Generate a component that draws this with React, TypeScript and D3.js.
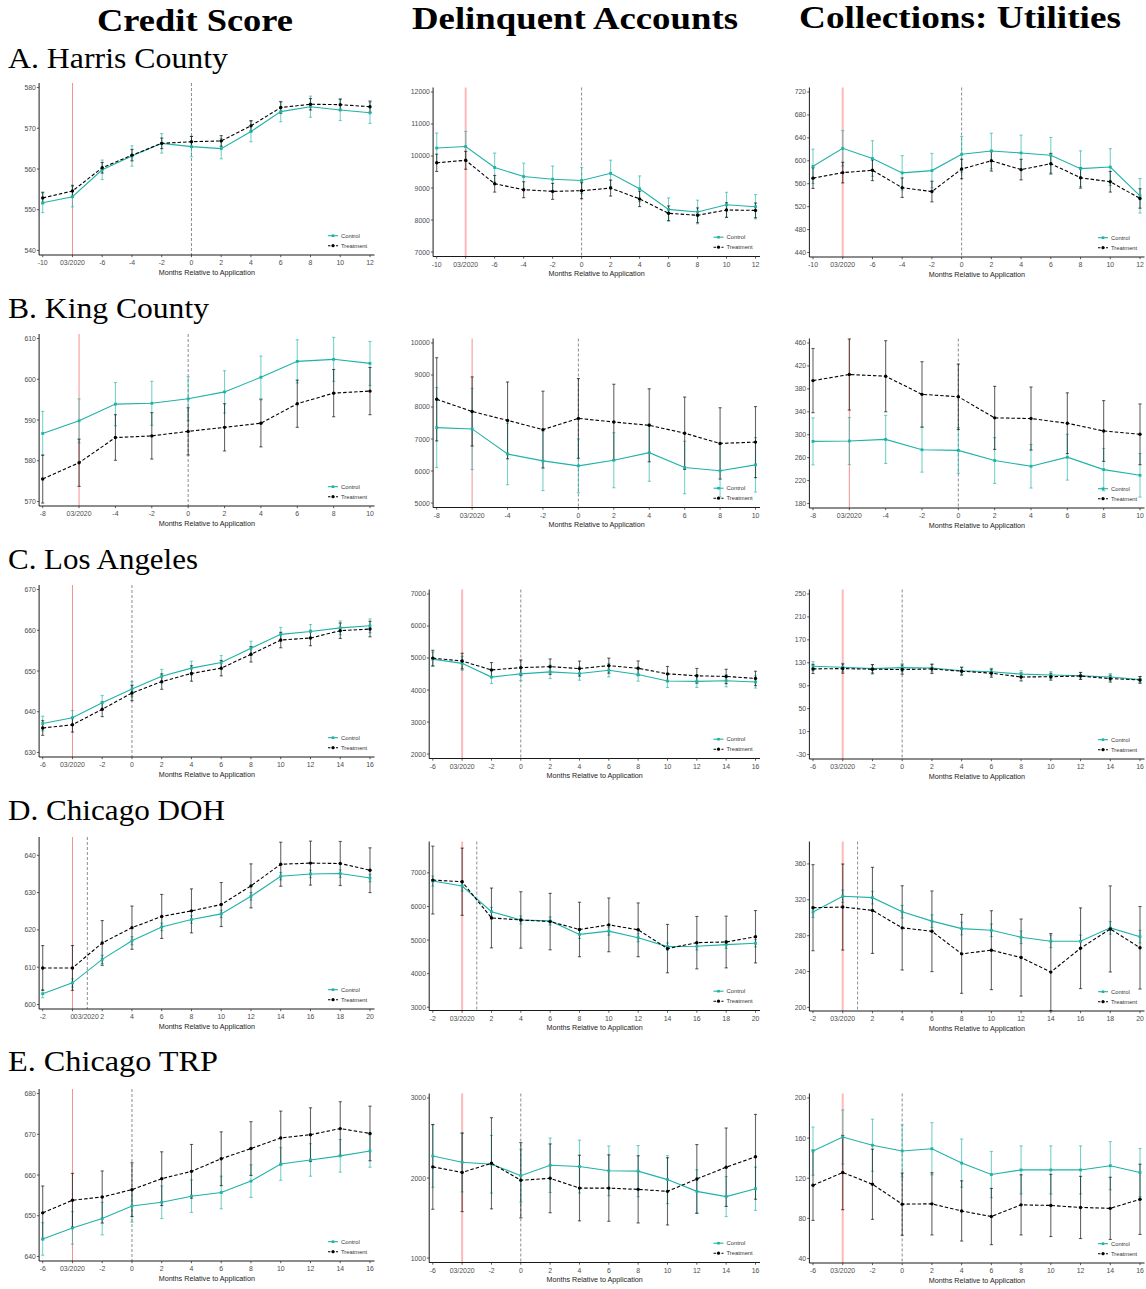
import React from 'react';
import * as d3 from 'd3';

// months relative to application, per site
const monthsHarris = [-10, -8, -6, -4, -2, 0, 2, 4, 6, 8, 10, 12];
const monthsKing = [-8, -6, -4, -2, 0, 2, 4, 6, 8, 10];
const monthsLA = [-6, -4, -2, 0, 2, 4, 6, 8, 10, 12, 14, 16];
const monthsDOH = [-2, 0, 2, 4, 6, 8, 10, 12, 14, 16, 18, 20];
const monthsTRP = [-6, -4, -2, 0, 2, 4, 6, 8, 10, 12, 14, 16];

// A. Harris County
const harrisCreditCtl = [551.7, 553.2, 559.8, 563.2, 566.3, 565.5, 565.0, 569.2, 574.1, 575.3, 574.5, 573.8];
const harrisCreditCtlCI = [2.4, 2.5, 2.4, 2.5, 2.4, 2.5, 2.5, 2.5, 2.5, 2.6, 2.6, 2.6];
const harrisCreditTrt = [552.9, 554.6, 560.3, 563.4, 566.3, 566.7, 566.9, 570.6, 575.1, 575.9, 575.8, 575.3];
const harrisCreditTrtCI = [1.4, 1.4, 1.3, 1.4, 1.3, 1.3, 1.3, 1.3, 1.4, 1.4, 1.4, 1.4];
const harrisDelinqCtl = [10248, 10297, 9641, 9357, 9275, 9234, 9459, 8977, 8332, 8250, 8475, 8414];
const harrisDelinqCtlCI = [470, 470, 450, 420, 410, 410, 410, 400, 360, 370, 390, 380];
const harrisDelinqTrt = [9787, 9866, 9132, 8947, 8895, 8916, 8998, 8660, 8209, 8148, 8312, 8301];
const harrisDelinqTrtCI = [270, 280, 260, 250, 250, 250, 250, 240, 230, 230, 230, 230];
const harrisUtilCtl = [590.3, 621.7, 604, 578.9, 582.9, 611.4, 617.1, 613.7, 609.7, 586.3, 589.1, 538.9];
const harrisUtilCtlCI = [30, 31, 31, 30, 30, 31, 31, 31, 31, 31, 32, 30];
const harrisUtilTrt = [569.7, 579.4, 583.4, 553.1, 546.3, 585.7, 600, 584.6, 594.9, 570.3, 563.4, 534.3];
const harrisUtilTrtCI = [18, 18, 18, 17, 18, 17, 18, 18, 18, 18, 18, 17];

// B. King County
const kingCreditCtl = [586.7, 589.8, 593.9, 594.1, 595.2, 596.9, 600.5, 604.4, 604.9, 603.9];
const kingCreditCtlCI = [5.4, 5.4, 5.3, 5.4, 5.4, 5.2, 5.2, 5.3, 5.4, 5.4];
const kingCreditTrt = [575.5, 579.5, 585.7, 586.1, 587.2, 588.2, 589.2, 594.0, 596.6, 597.1];
const kingCreditTrtCI = [5.9, 5.8, 5.6, 5.7, 5.8, 5.8, 5.8, 5.8, 5.8, 5.8];
const kingDelinqCtl = [7356, 7315, 6532, 6316, 6162, 6337, 6573, 6110, 6008, 6193];
const kingDelinqCtlCI = [1250, 1270, 960, 930, 840, 860, 895, 820, 820, 850];
const kingDelinqTrt = [8240, 7860, 7582, 7294, 7644, 7531, 7428, 7181, 6862, 6903];
const kingDelinqTrtCI = [1300, 1080, 1200, 1200, 1245, 1180, 1140, 1130, 1115, 1110];
const kingUtilCtl = [288.4, 289, 291.9, 273.7, 272.6, 255, 245, 260.8, 239.1, 229.2];
const kingUtilCtlCI = [41, 41, 42, 39, 40, 40, 38, 40, 37, 38];
const kingUtilTrt = [394.4, 405, 402, 370.4, 366.3, 329.4, 328.2, 320, 306.5, 300.7];
const kingUtilTrtCI = [56, 62, 62, 57, 57, 55, 55, 53, 53, 53];

// C. Los Angeles
const laCreditCtl = [637.1, 638.5, 642.2, 645.6, 648.7, 650.7, 652.1, 655.6, 659.0, 659.7, 660.6, 661.1];
const laCreditCtlCI = [1.8, 1.8, 1.8, 1.8, 1.7, 1.7, 1.7, 1.7, 1.7, 1.7, 1.7, 1.7];
const laCreditTrt = [636.0, 636.8, 640.6, 644.6, 647.4, 649.4, 650.7, 654.1, 657.6, 658.1, 659.9, 660.3];
const laCreditTrtCI = [1.8, 1.8, 1.8, 1.9, 1.9, 1.9, 1.9, 1.9, 1.9, 1.9, 1.9, 1.9];
const laDelinqCtl = [4965, 4832, 4403, 4505, 4567, 4515, 4618, 4485, 4280, 4270, 4290, 4250];
const laDelinqCtlCI = [220, 220, 200, 210, 210, 210, 210, 210, 200, 190, 190, 190];
const laDelinqTrt = [4996, 4904, 4628, 4699, 4730, 4669, 4761, 4679, 4505, 4444, 4423, 4362];
const laDelinqTrtCI = [245, 245, 230, 240, 240, 235, 235, 230, 230, 230, 225, 225];
const laUtilCtl = [123.9, 122.2, 119.9, 121.6, 121, 116, 114.3, 110.3, 108.6, 107.5, 105.2, 100.7];
const laUtilCtlCI = [8, 7, 7, 7, 7, 6, 6, 6, 6, 6, 6, 5];
const laUtilTrt = [119.3, 119.9, 118.8, 118.2, 119.3, 115.3, 111.9, 105.2, 105.7, 106.9, 102.4, 100.1];
const laUtilTrtCI = [8, 8, 8, 8, 8, 7, 7, 7, 6, 6, 6, 6];

// D. Chicago DOH
const dohCreditCtl = [602.9, 605.8, 612.1, 617.1, 620.8, 622.8, 624.3, 629.0, 634.4, 635.0, 635.1, 633.9];
const dohCreditCtlCI = [1.1, 1.1, 1.1, 1.1, 1.0, 1.0, 1.0, 1.0, 1.0, 1.0, 1.0, 1.0];
const dohCreditTrt = [609.8, 609.8, 616.5, 620.6, 623.6, 625.1, 626.8, 631.8, 637.6, 637.9, 637.8, 636.0];
const dohCreditTrtCI = [6.0, 6.0, 6.0, 5.8, 5.9, 5.9, 5.9, 5.9, 5.9, 5.9, 5.9, 6.0];
const dohDelinqCtl = [6755, 6608, 5843, 5598, 5569, 5167, 5265, 5069, 4805, 4815, 4863, 4903];
const dohDelinqCtlCI = [150, 150, 130, 120, 120, 120, 120, 120, 110, 110, 110, 110];
const dohDelinqTrt = [6784, 6735, 5657, 5598, 5549, 5314, 5451, 5304, 4745, 4922, 4941, 5098];
const dohDelinqTrtCI = [1010, 1000, 890, 840, 840, 810, 800, 800, 720, 780, 770, 780];
const dohUtilCtl = [306.3, 324, 322.4, 306.7, 296.2, 287.9, 286, 278.2, 273.7, 273.7, 288.7, 278.9];
const dohUtilCtlCI = [6, 7, 7, 7, 7, 7, 7, 7, 7, 7, 7, 7];
const dohUtilTrt = [311.2, 311.9, 308.2, 288.7, 284.9, 259.7, 263.8, 255.6, 239.4, 266, 287.5, 266.5];
const dohUtilTrtCI = [48, 48, 48, 47, 45, 44, 44, 43, 43, 45, 48, 46];

// E. Chicago TRP
const trpCreditCtl = [644.3, 647.0, 649.3, 652.4, 653.3, 654.8, 655.7, 658.5, 662.7, 663.7, 664.7, 665.9];
const trpCreditCtlCI = [4, 4, 4, 4, 4, 4, 4, 4, 4, 4, 4, 4];
const trpCreditTrt = [650.7, 653.8, 654.6, 656.4, 659.1, 660.9, 664.0, 666.5, 669.1, 669.9, 671.4, 670.2];
const trpCreditTrtCI = [6.6, 6.6, 6.4, 6.6, 6.6, 6.6, 6.6, 6.6, 6.6, 6.6, 6.6, 6.7];
const trpDelinqCtl = [2274, 2196, 2172, 2029, 2159, 2143, 2090, 2086, 1980, 1833, 1768, 1866];
const trpDelinqCtlCI = [390, 370, 360, 330, 340, 330, 310, 320, 300, 270, 250, 270];
const trpDelinqTrt = [2139, 2070, 2184, 1972, 1996, 1874, 1874, 1858, 1833, 1988, 2135, 2265];
const trpDelinqTrtCI = [530, 490, 570, 470, 430, 410, 415, 420, 420, 430, 490, 530];
const trpUtilCtl = [147.1, 161.1, 152.9, 147.1, 149.4, 135.1, 123.7, 128.3, 128.3, 128.3, 132.5, 125.7];
const trpUtilCtlCI = [24, 27, 26, 26, 26, 24, 23, 24, 24, 24, 24, 24];
const trpUtilTrt = [113, 125.7, 114, 94.2, 94.5, 87.4, 81.8, 93.5, 92.9, 90.9, 90, 99];
const trpUtilTrtCI = [35, 37, 35, 31, 31, 30, 28, 30, 31, 31, 31, 35];

// y tick labels
const ticksCreditA = [540, 550, 560, 570, 580];
const ticksDelinqA = [7000, 8000, 9000, 10000, 11000, 12000];
const ticksUtilA = [440, 480, 520, 560, 600, 640, 680, 720];
const ticksCreditB = [570, 580, 590, 600, 610];
const ticksDelinqB = [5000, 6000, 7000, 8000, 9000, 10000];
const ticksUtilB = [180, 220, 260, 300, 340, 380, 420, 460];
const ticksCreditC = [630, 640, 650, 660, 670];
const ticksDelinqC = [2000, 3000, 4000, 5000, 6000, 7000];
const ticksUtilC = [-30, 10, 50, 90, 130, 170, 210, 250];
const ticksCreditD = [600, 610, 620, 630, 640];
const ticksDelinqD = [3000, 4000, 5000, 6000, 7000];
const ticksUtilD = [200, 240, 280, 320, 360];
const ticksCreditE = [640, 650, 660, 670, 680];
const ticksDelinqE = [1000, 2000, 3000];
const ticksUtilE = [40, 80, 120, 160, 200];

const columnTitles = ['Credit Score', 'Delinquent Accounts', 'Collections: Utilities'];
const rowTitles = ['A. Harris County', 'B. King County', 'C. Los Angeles', 'D. Chicago DOH', 'E. Chicago TRP'];

const TEAL = '#1fb2a6';
const SANS = "'Liberation Sans', Arial, Helvetica, sans-serif";
const SERIF = "'Liberation Serif', 'Times New Roman', serif";

const ROW_TOPS = [83, 334, 585, 837, 1089];
const COLS = [
  { xFirst: (n: number) => 42.7, xLast: 370, top: 0, bottom: 172 },
  { xFirst: (n: number) => 417.2 + n * 3.9, xLast: 755.5, top: 4.5, bottom: 173.5 },
  { xFirst: (n: number) => 813, xLast: 1140, top: 4.5, bottom: 174 },
];
const titleX = [195, 575, 960];
const titleLen = [196, 326, 322];
const titleY = [31, 29, 28];
const rowTitleY = [68, 318, 569, 820, 1071];
const rowTitleLen = [220, 201, 190, 217, 210];

const padDomain = (t: number[]) => {
  const r = t[t.length - 1] - t[0];
  return [t[0] - 0.028 * r, t[t.length - 1] + 0.028 * r];
};

type Spec = {
  row: number; col: number; months: number[]; march: number; dash: number;
  ticks: number[]; domain?: number[];
  ctl: number[]; ctlCI: number[]; trt: number[]; trtCI: number[];
  extraZero?: boolean;
};

const panels: Spec[] = [
  { row: 0, col: 0, months: monthsHarris, march: -8, dash: 0, ticks: ticksCreditA, ctl: harrisCreditCtl, ctlCI: harrisCreditCtlCI, trt: harrisCreditTrt, trtCI: harrisCreditTrtCI },
  { row: 0, col: 1, months: monthsHarris, march: -8, dash: 0, ticks: ticksDelinqA, ctl: harrisDelinqCtl, ctlCI: harrisDelinqCtlCI, trt: harrisDelinqTrt, trtCI: harrisDelinqTrtCI },
  { row: 0, col: 2, months: monthsHarris, march: -8, dash: 0, ticks: ticksUtilA, ctl: harrisUtilCtl, ctlCI: harrisUtilCtlCI, trt: harrisUtilTrt, trtCI: harrisUtilTrtCI },
  { row: 1, col: 0, months: monthsKing, march: -6, dash: 0, ticks: ticksCreditB, ctl: kingCreditCtl, ctlCI: kingCreditCtlCI, trt: kingCreditTrt, trtCI: kingCreditTrtCI },
  { row: 1, col: 1, months: monthsKing, march: -6, dash: 0, ticks: ticksDelinqB, ctl: kingDelinqCtl, ctlCI: kingDelinqCtlCI, trt: kingDelinqTrt, trtCI: kingDelinqTrtCI },
  { row: 1, col: 2, months: monthsKing, march: -6, dash: 0, ticks: ticksUtilB, ctl: kingUtilCtl, ctlCI: kingUtilCtlCI, trt: kingUtilTrt, trtCI: kingUtilTrtCI },
  { row: 2, col: 0, months: monthsLA, march: -4, dash: 0, ticks: ticksCreditC, ctl: laCreditCtl, ctlCI: laCreditCtlCI, trt: laCreditTrt, trtCI: laCreditTrtCI },
  { row: 2, col: 1, months: monthsLA, march: -4, dash: 0, ticks: ticksDelinqC, ctl: laDelinqCtl, ctlCI: laDelinqCtlCI, trt: laDelinqTrt, trtCI: laDelinqTrtCI },
  { row: 2, col: 2, months: monthsLA, march: -4, dash: 0, ticks: ticksUtilC, ctl: laUtilCtl, ctlCI: laUtilCtlCI, trt: laUtilTrt, trtCI: laUtilTrtCI },
  { row: 3, col: 0, months: monthsDOH, march: 0, dash: 1, ticks: ticksCreditD, domain: [598.8, 644.9], ctl: dohCreditCtl, ctlCI: dohCreditCtlCI, trt: dohCreditTrt, trtCI: dohCreditTrtCI, extraZero: true },
  { row: 3, col: 1, months: monthsDOH, march: 0, dash: 1, ticks: ticksDelinqD, domain: [2903, 7932], ctl: dohDelinqCtl, ctlCI: dohDelinqCtlCI, trt: dohDelinqTrt, trtCI: dohDelinqTrtCI },
  { row: 3, col: 2, months: monthsDOH, march: 0, dash: 1, ticks: ticksUtilD, domain: [196, 385], ctl: dohUtilCtl, ctlCI: dohUtilCtlCI, trt: dohUtilTrt, trtCI: dohUtilTrtCI },
  { row: 4, col: 0, months: monthsTRP, march: -4, dash: 0, ticks: ticksCreditE, ctl: trpCreditCtl, ctlCI: trpCreditCtlCI, trt: trpCreditTrt, trtCI: trpCreditTrtCI },
  { row: 4, col: 1, months: monthsTRP, march: -4, dash: 0, ticks: ticksDelinqE, ctl: trpDelinqCtl, ctlCI: trpDelinqCtlCI, trt: trpDelinqTrt, trtCI: trpDelinqTrtCI },
  { row: 4, col: 2, months: monthsTRP, march: -4, dash: 0, ticks: ticksUtilE, ctl: trpUtilCtl, ctlCI: trpUtilCtlCI, trt: trpUtilTrt, trtCI: trpUtilTrtCI },
];

function Panel({ p }: { p: Spec }) {
  const c = COLS[p.col];
  const top = ROW_TOPS[p.row] + c.top;
  const bottom = ROW_TOPS[p.row] + c.bottom;
  const nChars = d3.max(p.ticks, (t) => String(t).length) as number;
  const xFirst = c.xFirst(nChars);
  const x = d3.scaleLinear()
    .domain([p.months[0], p.months[p.months.length - 1]])
    .range([xFirst, c.xLast]);
  const y = d3.scaleLinear().domain(p.domain ?? padDomain(p.ticks)).range([bottom, top]);
  const left = xFirst - 3.6;
  const right = c.xLast + 4.5;
  const line = (vals: number[]) =>
    d3.line<number>().x((_, i) => x(p.months[i])).y((v) => y(v))(vals) as string;

  const thinRed = p.col === 0 || p.row === 1;

  const errorBars = (vals: number[], ci: number[], color: string, op: number) =>
    vals.map((v, i) => {
      const xi = x(p.months[i]);
      const y0 = y(v - ci[i]);
      const y1 = y(v + ci[i]);
      return (
        <g key={i} stroke={color} strokeOpacity={op} strokeWidth={1.1}>
          <line x1={xi} x2={xi} y1={y0} y2={y1} />
          <line x1={xi - 1.6} x2={xi + 1.6} y1={y0} y2={y0} />
          <line x1={xi - 1.6} x2={xi + 1.6} y1={y1} y2={y1} />
        </g>
      );
    });

  const tickLabel = (m: number) => {
    if (m === p.march && !p.extraZero) return '03/2020';
    return String(m);
  };

  const lx = c.xLast - 37;
  const legY1 = bottom - 19.3;
  const legY2 = bottom - 9.3;

  return (
    <g>
      {/* reference lines */}
      <line x1={x(p.march)} x2={x(p.march)} y1={top} y2={bottom}
        stroke={thinRed ? '#f29090' : '#ffb8b8'} strokeWidth={thinRed ? 1 : 2} />
      <line x1={x(p.dash)} x2={x(p.dash)} y1={top} y2={bottom}
        stroke="#808080" strokeWidth={0.9} strokeDasharray="3,2" />

      {/* error bars */}
      {errorBars(p.ctl, p.ctlCI, TEAL, 0.6)}
      {errorBars(p.trt, p.trtCI, '#000', 0.6)}

      {/* series lines */}
      <path d={line(p.ctl)} fill="none" stroke={TEAL} strokeWidth={1.1} />
      <path d={line(p.trt)} fill="none" stroke="#000" strokeWidth={1.1} strokeDasharray="3.5,2" />

      {/* points */}
      {p.ctl.map((v, i) => (
        <rect key={'c' + i} x={x(p.months[i]) - 1.4} y={y(v) - 1.4} width={2.8} height={2.8} fill={TEAL} />
      ))}
      {p.trt.map((v, i) => (
        <circle key={'t' + i} cx={x(p.months[i])} cy={y(v)} r={1.7} fill="#000" />
      ))}

      {/* axes */}
      <line x1={left} x2={left} y1={top} y2={bottom} stroke="#000" strokeWidth={0.9} />
      <line x1={left} x2={right} y1={bottom} y2={bottom} stroke="#000" strokeWidth={0.9} />
      {p.ticks.map((t) => (
        <g key={'y' + t}>
          <line x1={left - 2.2} x2={left} y1={y(t)} y2={y(t)} stroke="#333" strokeWidth={0.8} />
          <text x={left - 3.2} y={y(t) + 2.5} textAnchor="end" fontSize={6.9} fontFamily={SANS} fill="#4d4d4d">{t}</text>
        </g>
      ))}
      {p.months.map((m) => (
        <g key={'x' + m}>
          <line x1={x(m)} x2={x(m)} y1={bottom} y2={bottom + 2.2} stroke="#333" strokeWidth={0.8} />
          <text x={x(m)} y={bottom + 10} textAnchor="middle" fontSize={6.9} fontFamily={SANS} fill="#4d4d4d">{tickLabel(m)}</text>
        </g>
      ))}
      {p.extraZero && (
        <text x={x(p.dash) - 1} y={bottom + 10} textAnchor="middle" fontSize={6.9} fontFamily={SANS} fill="#4d4d4d">03/2020</text>
      )}
      <text x={(left + right) / 2} y={bottom + 19.8} textAnchor="middle" fontSize={7.2} fontFamily={SANS} fill="#222">
        Months Relative to Application
      </text>

      {/* legend */}
      <line x1={lx - 5} x2={lx + 5} y1={legY1} y2={legY1} stroke={TEAL} strokeWidth={1.1} />
      <rect x={lx - 1.3} y={legY1 - 1.3} width={2.6} height={2.6} fill={TEAL} />
      <text x={lx + 8} y={legY1 + 2} fontSize={5.8} fontFamily={SANS} fill="#333">Control</text>
      <line x1={lx - 5} x2={lx + 5} y1={legY2} y2={legY2} stroke="#000" strokeWidth={1.1} strokeDasharray="2.5,1.5" />
      <circle cx={lx} cy={legY2} r={1.6} fill="#000" />
      <text x={lx + 8} y={legY2 + 2} fontSize={5.8} fontFamily={SANS} fill="#333">Treatment</text>
    </g>
  );
}

export default function App() {
  return (
    <svg width={1146} height={1289} viewBox="0 0 1146 1289"
      style={{ position: 'absolute', left: 0, top: 0, background: '#fff' }}>
      <rect width={1146} height={1289} fill="#fff" />
      {columnTitles.map((t, i) => (
        <text key={t} x={titleX[i]} y={titleY[i]} textAnchor="middle" fontFamily={SERIF} fontWeight="bold"
          fontSize={31} textLength={titleLen[i]} lengthAdjust="spacingAndGlyphs">{t}</text>
      ))}
      {rowTitles.map((t, i) => (
        <text key={t} x={8} y={rowTitleY[i]} fontFamily={SERIF} fontSize={29}
          textLength={rowTitleLen[i]} lengthAdjust="spacingAndGlyphs">{t}</text>
      ))}
      {panels.map((p) => <Panel key={p.row + '-' + p.col} p={p} />)}
    </svg>
  );
}
